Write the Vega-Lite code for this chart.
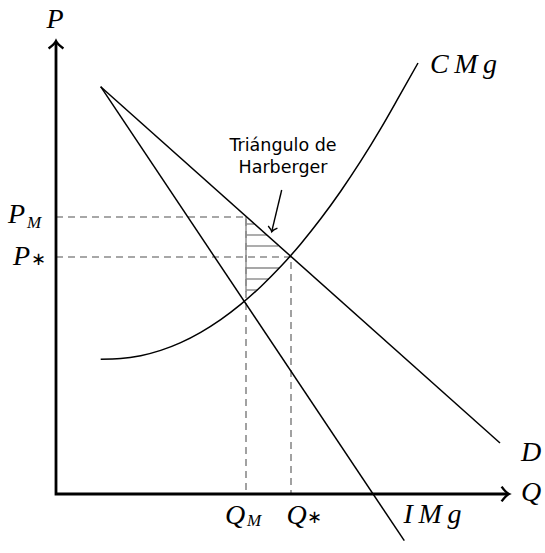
{
  "$schema": "https://vega.github.io/schema/vega-lite/v6.json",
  "width": 545,
  "height": 553,
  "autosize": {"type": "fit", "contains": "padding"},
  "padding": 0,
  "background": "white",
  "config": {"view": {"stroke": null}},
  "datasets": {
    "lines": [
      {"seg": "D", "i": 0, "q": 44.7, "p": 407.3},
      {"seg": "D", "i": 1, "q": 444, "p": 51},
      {"seg": "IMg", "i": 0, "q": 44.7, "p": 407.3},
      {"seg": "IMg", "i": 1, "q": 348.3, "p": -46.7}
    ],
    "cmg": [
      {"i": 0, "q": 44.7, "p": 134.7},
      {"i": 1, "q": 64.7, "p": 135.4},
      {"i": 2, "q": 84.7, "p": 138.3},
      {"i": 3, "q": 104.7, "p": 143.6},
      {"i": 4, "q": 124.7, "p": 151.4},
      {"i": 5, "q": 144.7, "p": 161.7},
      {"i": 6, "q": 164.7, "p": 174.4},
      {"i": 7, "q": 184.7, "p": 189.6},
      {"i": 8, "q": 204.7, "p": 207.3},
      {"i": 9, "q": 224.7, "p": 227.4},
      {"i": 10, "q": 244.7, "p": 250.1},
      {"i": 11, "q": 264.7, "p": 275.2},
      {"i": 12, "q": 284.7, "p": 302.8},
      {"i": 13, "q": 304.7, "p": 332.8},
      {"i": 14, "q": 324.7, "p": 365.4},
      {"i": 15, "q": 344.7, "p": 400.4},
      {"i": 16, "q": 362, "p": 431}
    ],
    "dashed": [
      {"seg": "M", "i": 0, "q": 0, "p": 277},
      {"seg": "M", "i": 1, "q": 190, "p": 277},
      {"seg": "M", "i": 2, "q": 190, "p": 0},
      {"seg": "S", "i": 0, "q": 0, "p": 237},
      {"seg": "S", "i": 1, "q": 235, "p": 237},
      {"seg": "S", "i": 2, "q": 235, "p": 0}
    ],
    "hatch": [
      {"seg": "v", "i": 0, "q": 190, "p": 277},
      {"seg": "v", "i": 1, "q": 190, "p": 202},
      {"seg": "h1", "i": 0, "q": 190, "p": 270},
      {"seg": "h1", "i": 1, "q": 198.6, "p": 270},
      {"seg": "h2", "i": 0, "q": 190, "p": 259},
      {"seg": "h2", "i": 1, "q": 210.9, "p": 259},
      {"seg": "h3", "i": 0, "q": 190, "p": 248},
      {"seg": "h3", "i": 1, "q": 222, "p": 248},
      {"seg": "h4", "i": 0, "q": 190, "p": 226},
      {"seg": "h4", "i": 1, "q": 223, "p": 226},
      {"seg": "h5", "i": 0, "q": 190, "p": 215},
      {"seg": "h5", "i": 1, "q": 213, "p": 215},
      {"seg": "h6", "i": 0, "q": 190, "p": 204},
      {"seg": "h6", "i": 1, "q": 201.5, "p": 204}
    ],
    "axes": [
      {"i": 0, "q": 0, "p": 452},
      {"i": 1, "q": 0, "p": 0},
      {"i": 2, "q": 452, "p": 0}
    ],
    "ytip": [{"q": 0, "p": 453}],
    "xtip": [{"q": 453, "p": 0}],
    "harbArrow": [
      {"i": 0, "q": 225.7, "p": 304},
      {"i": 1, "q": 215.7, "p": 262.3}
    ],
    "harbTip": [{"q": 215.7, "p": 262.3}],
    "bigLabels": [
      {"t": "P", "q": -1, "p": 474},
      {"t": "C\u2009M\u2009g", "q": 407.5, "p": 429},
      {"t": "D", "q": 475, "p": 41},
      {"t": "Q", "q": 475, "p": 1},
      {"t": "I\u2009M\u2009g", "q": 376.5, "p": -21},
      {"t": "P", "q": -39.5, "p": 279},
      {"t": "P", "q": -34.5, "p": 237},
      {"t": "Q", "q": 179, "p": -22},
      {"t": "Q", "q": 240.5, "p": -22}
    ],
    "subLabels": [
      {"t": "M", "q": -22, "p": 271.5},
      {"t": "M", "q": 198, "p": -27}
    ],
    "stars": [
      {"t": "∗", "q": -17.5, "p": 234},
      {"t": "∗", "q": 258.5, "p": -24}
    ],
    "note": [
      {"t": "Triángulo de", "q": 227, "p": 348},
      {"t": "Harberger", "q": 227, "p": 326}
    ]
  },
  "encoding": {
    "x": {"field": "q", "type": "quantitative", "scale": {"domain": [-56, 489], "nice": false, "zero": false}, "axis": null},
    "y": {"field": "p", "type": "quantitative", "scale": {"domain": [-59, 494], "nice": false, "zero": false}, "axis": null}
  },
  "layer": [
    {
      "data": {"name": "dashed"},
      "mark": {"type": "line", "color": "#8a8a8a", "strokeWidth": 1.6, "strokeDash": [7, 5]},
      "encoding": {"detail": {"field": "seg"}, "order": {"field": "i"}}
    },
    {
      "data": {"name": "hatch"},
      "mark": {"type": "line", "color": "#8a8a8a", "strokeWidth": 1.4},
      "encoding": {"detail": {"field": "seg"}, "order": {"field": "i"}}
    },
    {
      "data": {"name": "lines"},
      "mark": {"type": "line", "color": "black", "strokeWidth": 1.5},
      "encoding": {"detail": {"field": "seg"}, "order": {"field": "i"}}
    },
    {
      "data": {"name": "cmg"},
      "mark": {"type": "line", "color": "black", "strokeWidth": 1.5, "interpolate": "monotone"},
      "encoding": {"order": {"field": "i"}}
    },
    {
      "data": {"name": "axes"},
      "mark": {"type": "line", "color": "black", "strokeWidth": 2.8, "strokeJoin": "miter"},
      "encoding": {"order": {"field": "i"}}
    },
    {
      "data": {"name": "ytip"},
      "mark": {"type": "point", "shape": "M-1,-1 C-0.6,-0.45 -0.25,-0.12 0,0 C-0.25,0.12 -0.6,0.45 -1,1", "filled": false, "stroke": "black", "strokeWidth": 2.4, "size": 220, "angle": 270, "opacity": 1}
    },
    {
      "data": {"name": "xtip"},
      "mark": {"type": "point", "shape": "M-1,-1 C-0.6,-0.45 -0.25,-0.12 0,0 C-0.25,0.12 -0.6,0.45 -1,1", "filled": false, "stroke": "black", "strokeWidth": 2.4, "size": 220, "angle": 0, "opacity": 1}
    },
    {
      "data": {"name": "harbArrow"},
      "mark": {"type": "line", "color": "black", "strokeWidth": 1.4},
      "encoding": {"order": {"field": "i"}}
    },
    {
      "data": {"name": "harbTip"},
      "mark": {"type": "point", "shape": "M-1,-1 C-0.6,-0.45 -0.25,-0.12 0,0 C-0.25,0.12 -0.6,0.45 -1,1", "filled": false, "stroke": "black", "strokeWidth": 1.4, "size": 90, "angle": 103.5, "opacity": 1}
    },
    {
      "data": {"name": "bigLabels"},
      "mark": {"type": "text", "font": "Liberation Serif", "fontStyle": "italic", "fontSize": 28, "align": "center", "baseline": "middle", "color": "black"},
      "encoding": {"text": {"field": "t"}}
    },
    {
      "data": {"name": "subLabels"},
      "mark": {"type": "text", "font": "Liberation Serif", "fontStyle": "italic", "fontSize": 17, "align": "center", "baseline": "middle", "color": "black"},
      "encoding": {"text": {"field": "t"}}
    },
    {
      "data": {"name": "stars"},
      "mark": {"type": "text", "font": "DejaVu Sans", "fontSize": 18, "align": "center", "baseline": "middle", "color": "black"},
      "encoding": {"text": {"field": "t"}}
    },
    {
      "data": {"name": "note"},
      "mark": {"type": "text", "font": "DejaVu Sans", "fontSize": 17.5, "align": "center", "baseline": "middle", "color": "black"},
      "encoding": {"text": {"field": "t"}}
    }
  ]
}
